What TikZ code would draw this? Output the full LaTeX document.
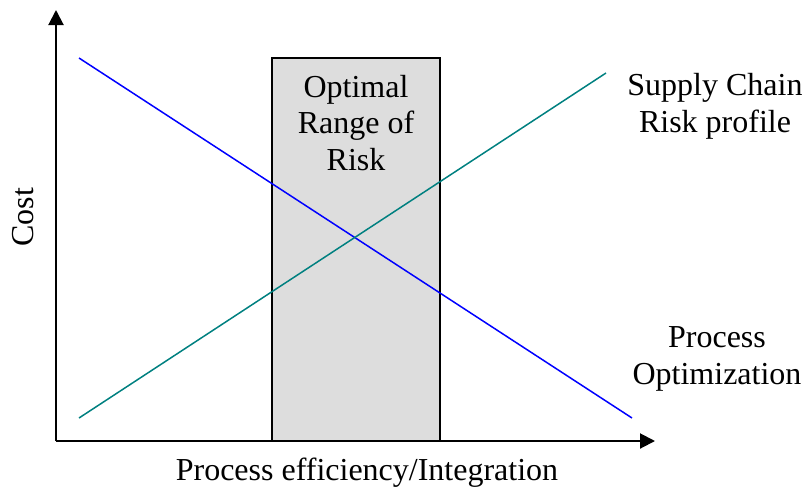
\documentclass[tikz,border=0pt]{standalone}
\usepackage{fontspec}
\setmainfont{Liberation Serif}
\usetikzlibrary{arrows.meta}
\definecolor{tealline}{RGB}{0,128,128}
\definecolor{boxgray}{RGB}{221,221,221}
\begin{document}
\begin{tikzpicture}[x=1pt,y=-1pt,
  axis/.style={line width=2pt,-{Triangle[length=15pt,width=15pt]}},
  lbl/.style={font=\fontsize{32}{36.5}\selectfont,align=center,inner sep=0pt,anchor=base},
  ln/.style={line width=1.5pt}]
\useasboundingbox (0,0) rectangle (805,488);
\node[draw=black,line width=2pt,fill=boxgray,minimum width=168pt,minimum height=383pt,inner sep=0pt] (box) at (356,249.5) {};
\coordinate (O) at (56,441);
\coordinate (Ytop) at (56,10);
\coordinate (Xend) at (655,441);
\draw[axis] (O) -- (Ytop);
\draw[axis] (O) -- (Xend);
\coordinate (B1) at (79,58);
\coordinate (B2) at (632,418);
\coordinate (T1) at (79,418);
\coordinate (T2) at (606,73);
\draw[ln,blue] (B1) -- (B2);
\draw[ln,tealline] (T1) -- (T2);
\node[lbl] (opt) at (356,170) {Optimal\\Range of\\Risk};
\node[lbl] (sc) at (715,132) {Supply Chain\\Risk profile};
\node[lbl] (po) at (717,384) {Process\\Optimization};
\node[lbl,rotate=90] (cost) at (33,217) {Cost};
\node[lbl] (xl) at (367,480.5) {Process efficiency/Integration};
\end{tikzpicture}
\end{document}
